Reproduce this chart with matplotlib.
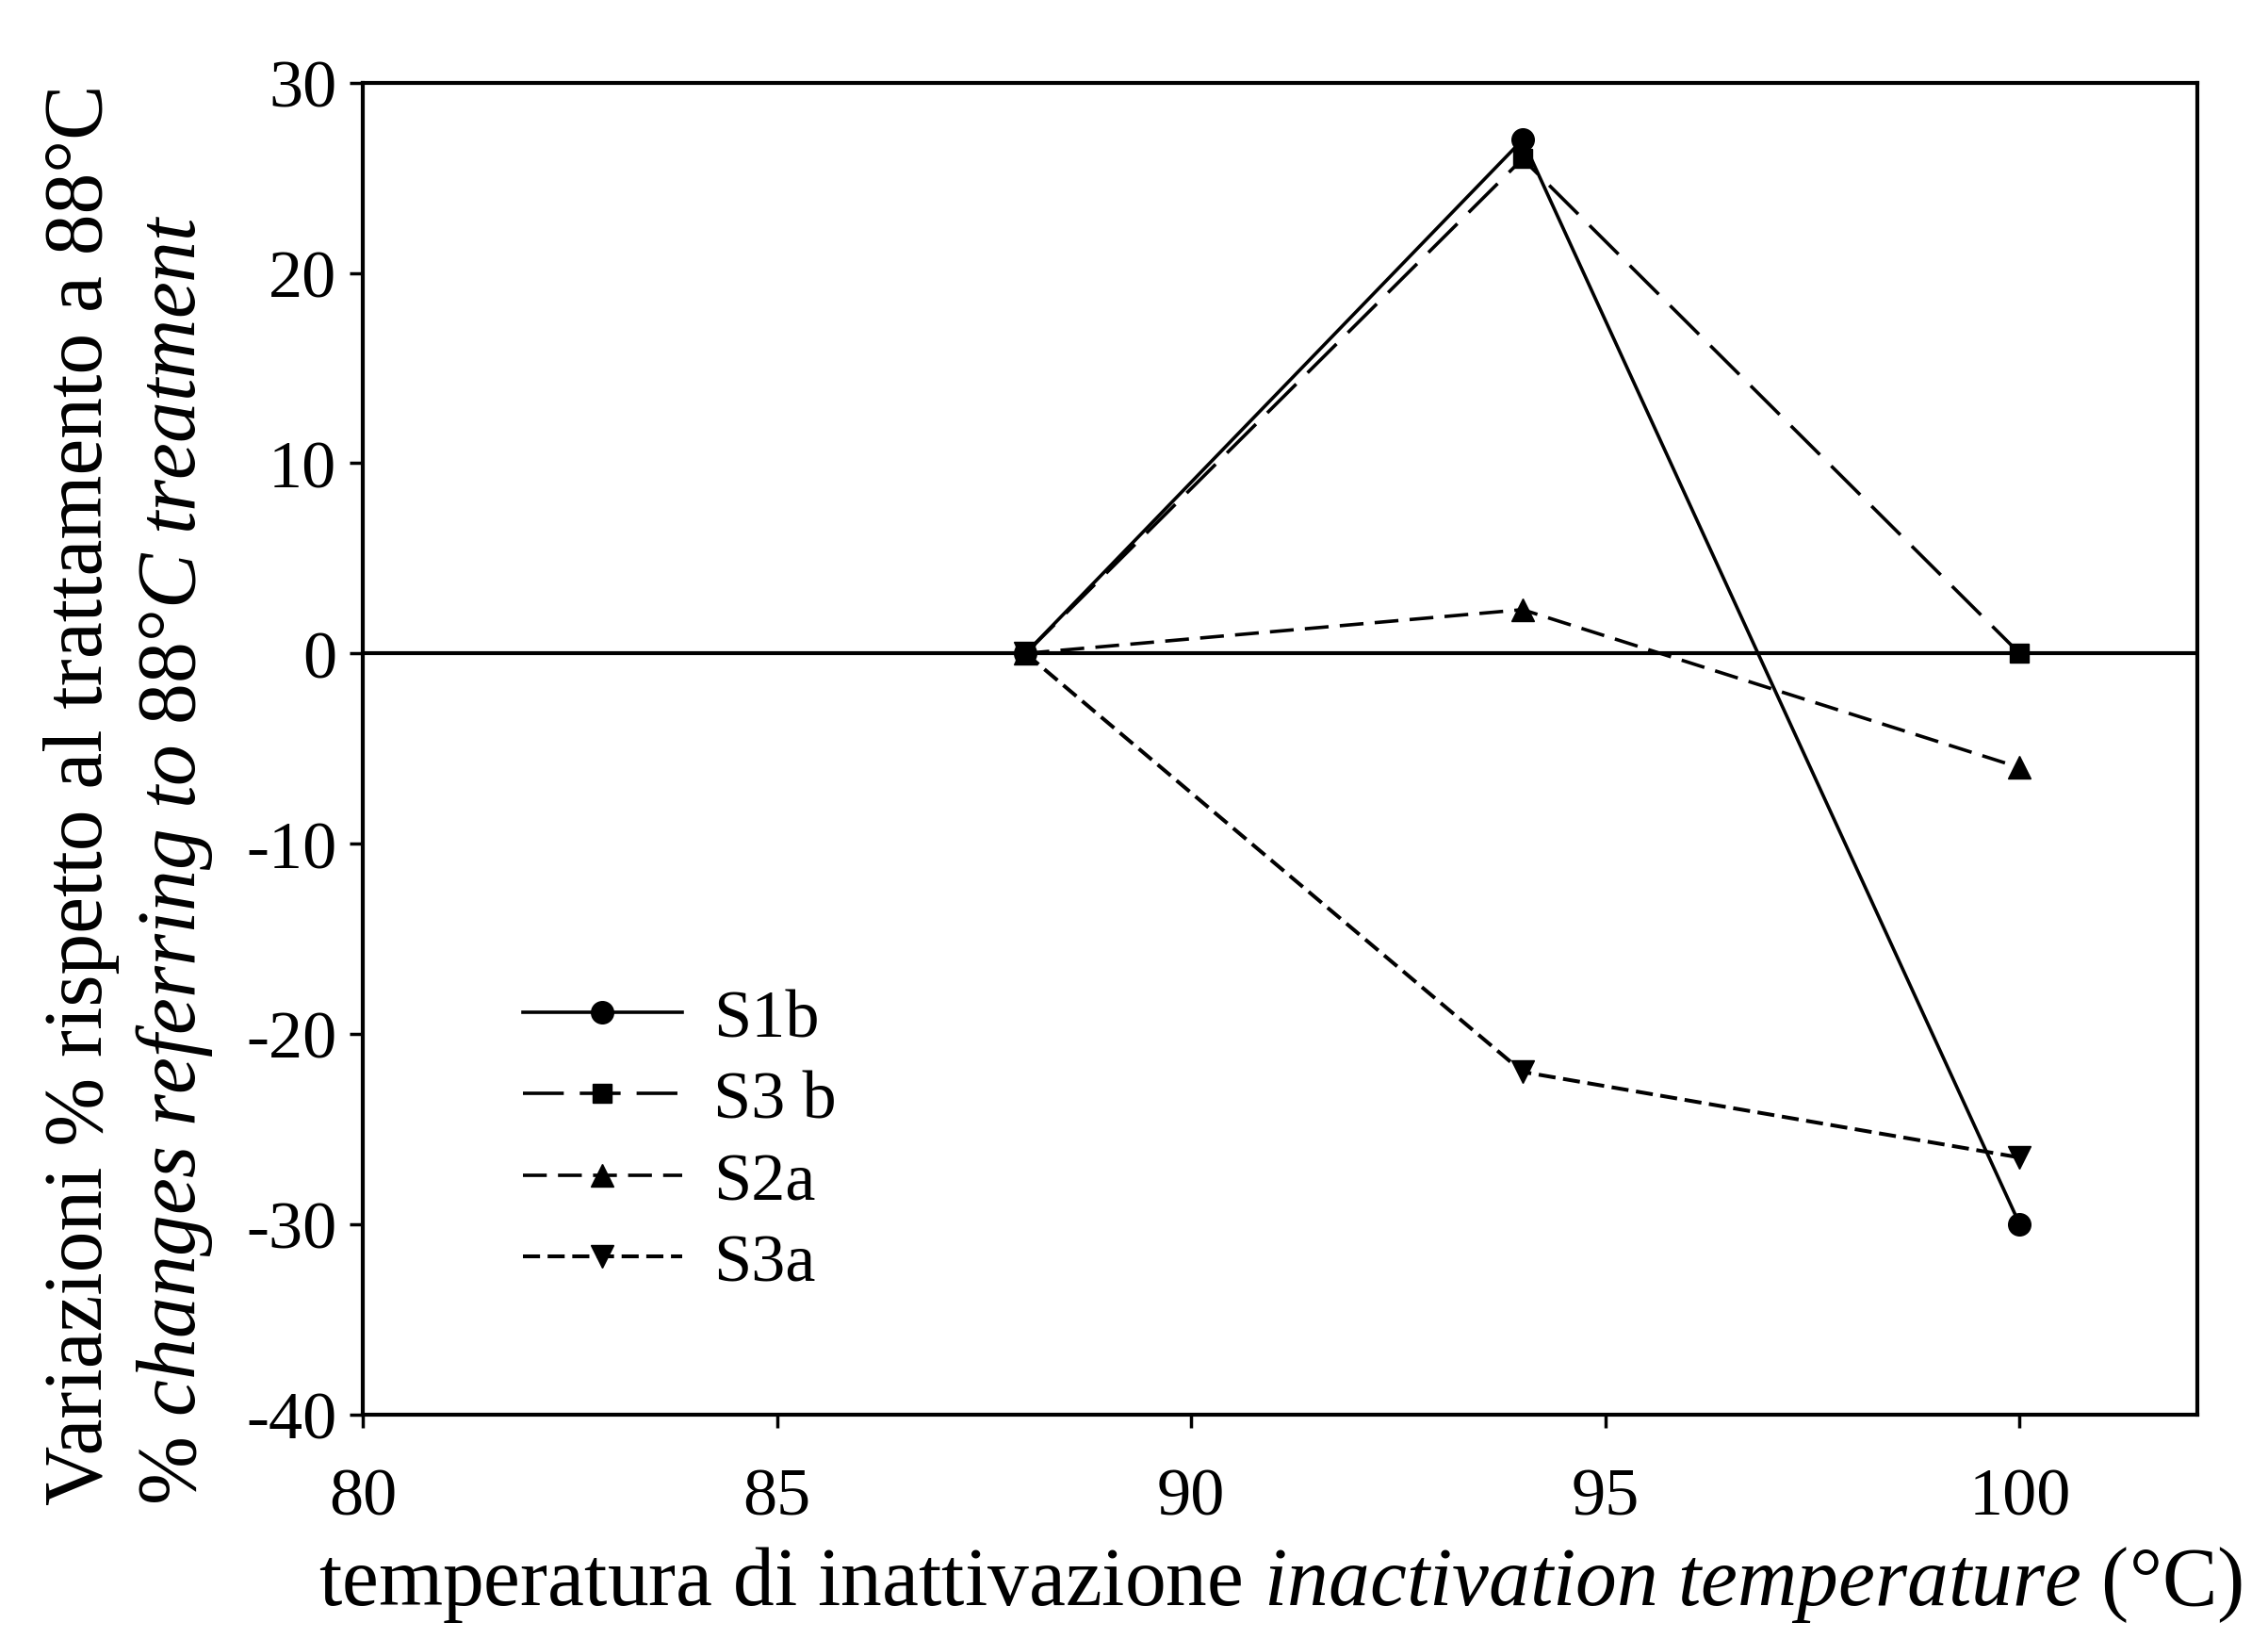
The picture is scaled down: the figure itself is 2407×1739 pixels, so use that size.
import matplotlib
matplotlib.use("Agg")
import matplotlib.pyplot as plt

plt.rcParams['font.family'] = ['Liberation Serif', 'DejaVu Serif']
plt.rcParams['mathtext.fontset'] = 'custom'
plt.rcParams['mathtext.rm'] = 'Liberation Serif'
plt.rcParams['mathtext.it'] = 'Liberation Serif:italic'
plt.rcParams['axes.unicode_minus'] = False

temperature = [88, 94, 100]
s1b = [0, 27, -30]
s3b = [0, 26, 0]
s2a = [0, 2.3, -6]
s3a = [0, -22, -26.5]
series_names = ["S1b", "S3 b", "S2a", "S3a"]
xticks = [80, 85, 90, 95, 100]
yticks = [-40, -30, -20, -10, 0, 10, 20, 30]

fig = plt.figure(figsize=(24.07, 17.40), dpi=100)
ax = fig.add_axes([0.16, 0.137, 0.809, 0.812])

lw = 2.6
ax.axhline(0, color='black', lw=3)
ax.plot(temperature, s1b, color='black', lw=lw, ls='-', marker='o', ms=17, label=series_names[0])
ax.plot(temperature, s3b, color='black', lw=lw, ls=(0, (12, 4.7)), marker='s', ms=15, label=series_names[1])
ax.plot(temperature, s2a, color='black', lw=lw, ls=(0, (7, 3.3)), marker='^', ms=17, label=series_names[2])
ax.plot(temperature, s3a, color='black', lw=2.9, ls=(0, (4.5, 2)), marker='v', ms=17, label=series_names[3])

ax.set_xlim(80, 102.15)
ax.set_ylim(-40, 30)
ax.set_xticks(xticks)
ax.set_yticks(yticks)
ax.tick_params(labelsize=52, length=10, width=2.5, direction='out')
ax.tick_params(axis='x', pad=30)
ax.tick_params(axis='y', pad=10)
for s in ax.spines.values():
    s.set_linewidth(3)

ax.set_xlabel(r'temperatura di inattivazione $\mathit{inactivation\ temperature}$ (°C)', fontsize=63, labelpad=12)
fig.text(0.019, 0.082, 'Variazioni % rispetto al trattamento a 88°C', rotation=90, fontsize=63, va='bottom', ha='left')
fig.text(0.059, 0.082, r'% $\mathit{changes\ referring\ to\ 88°C\ treatment}$', rotation=90, fontsize=63, va='bottom', ha='left')

leg = ax.legend(loc='upper left', bbox_to_anchor=(0.087, 0.32), frameon=False, fontsize=52,
                handlelength=2.35, handletextpad=0.45, labelspacing=0.29, borderpad=0, borderaxespad=0)

fig.savefig('out.png', dpi=100, facecolor='white')
